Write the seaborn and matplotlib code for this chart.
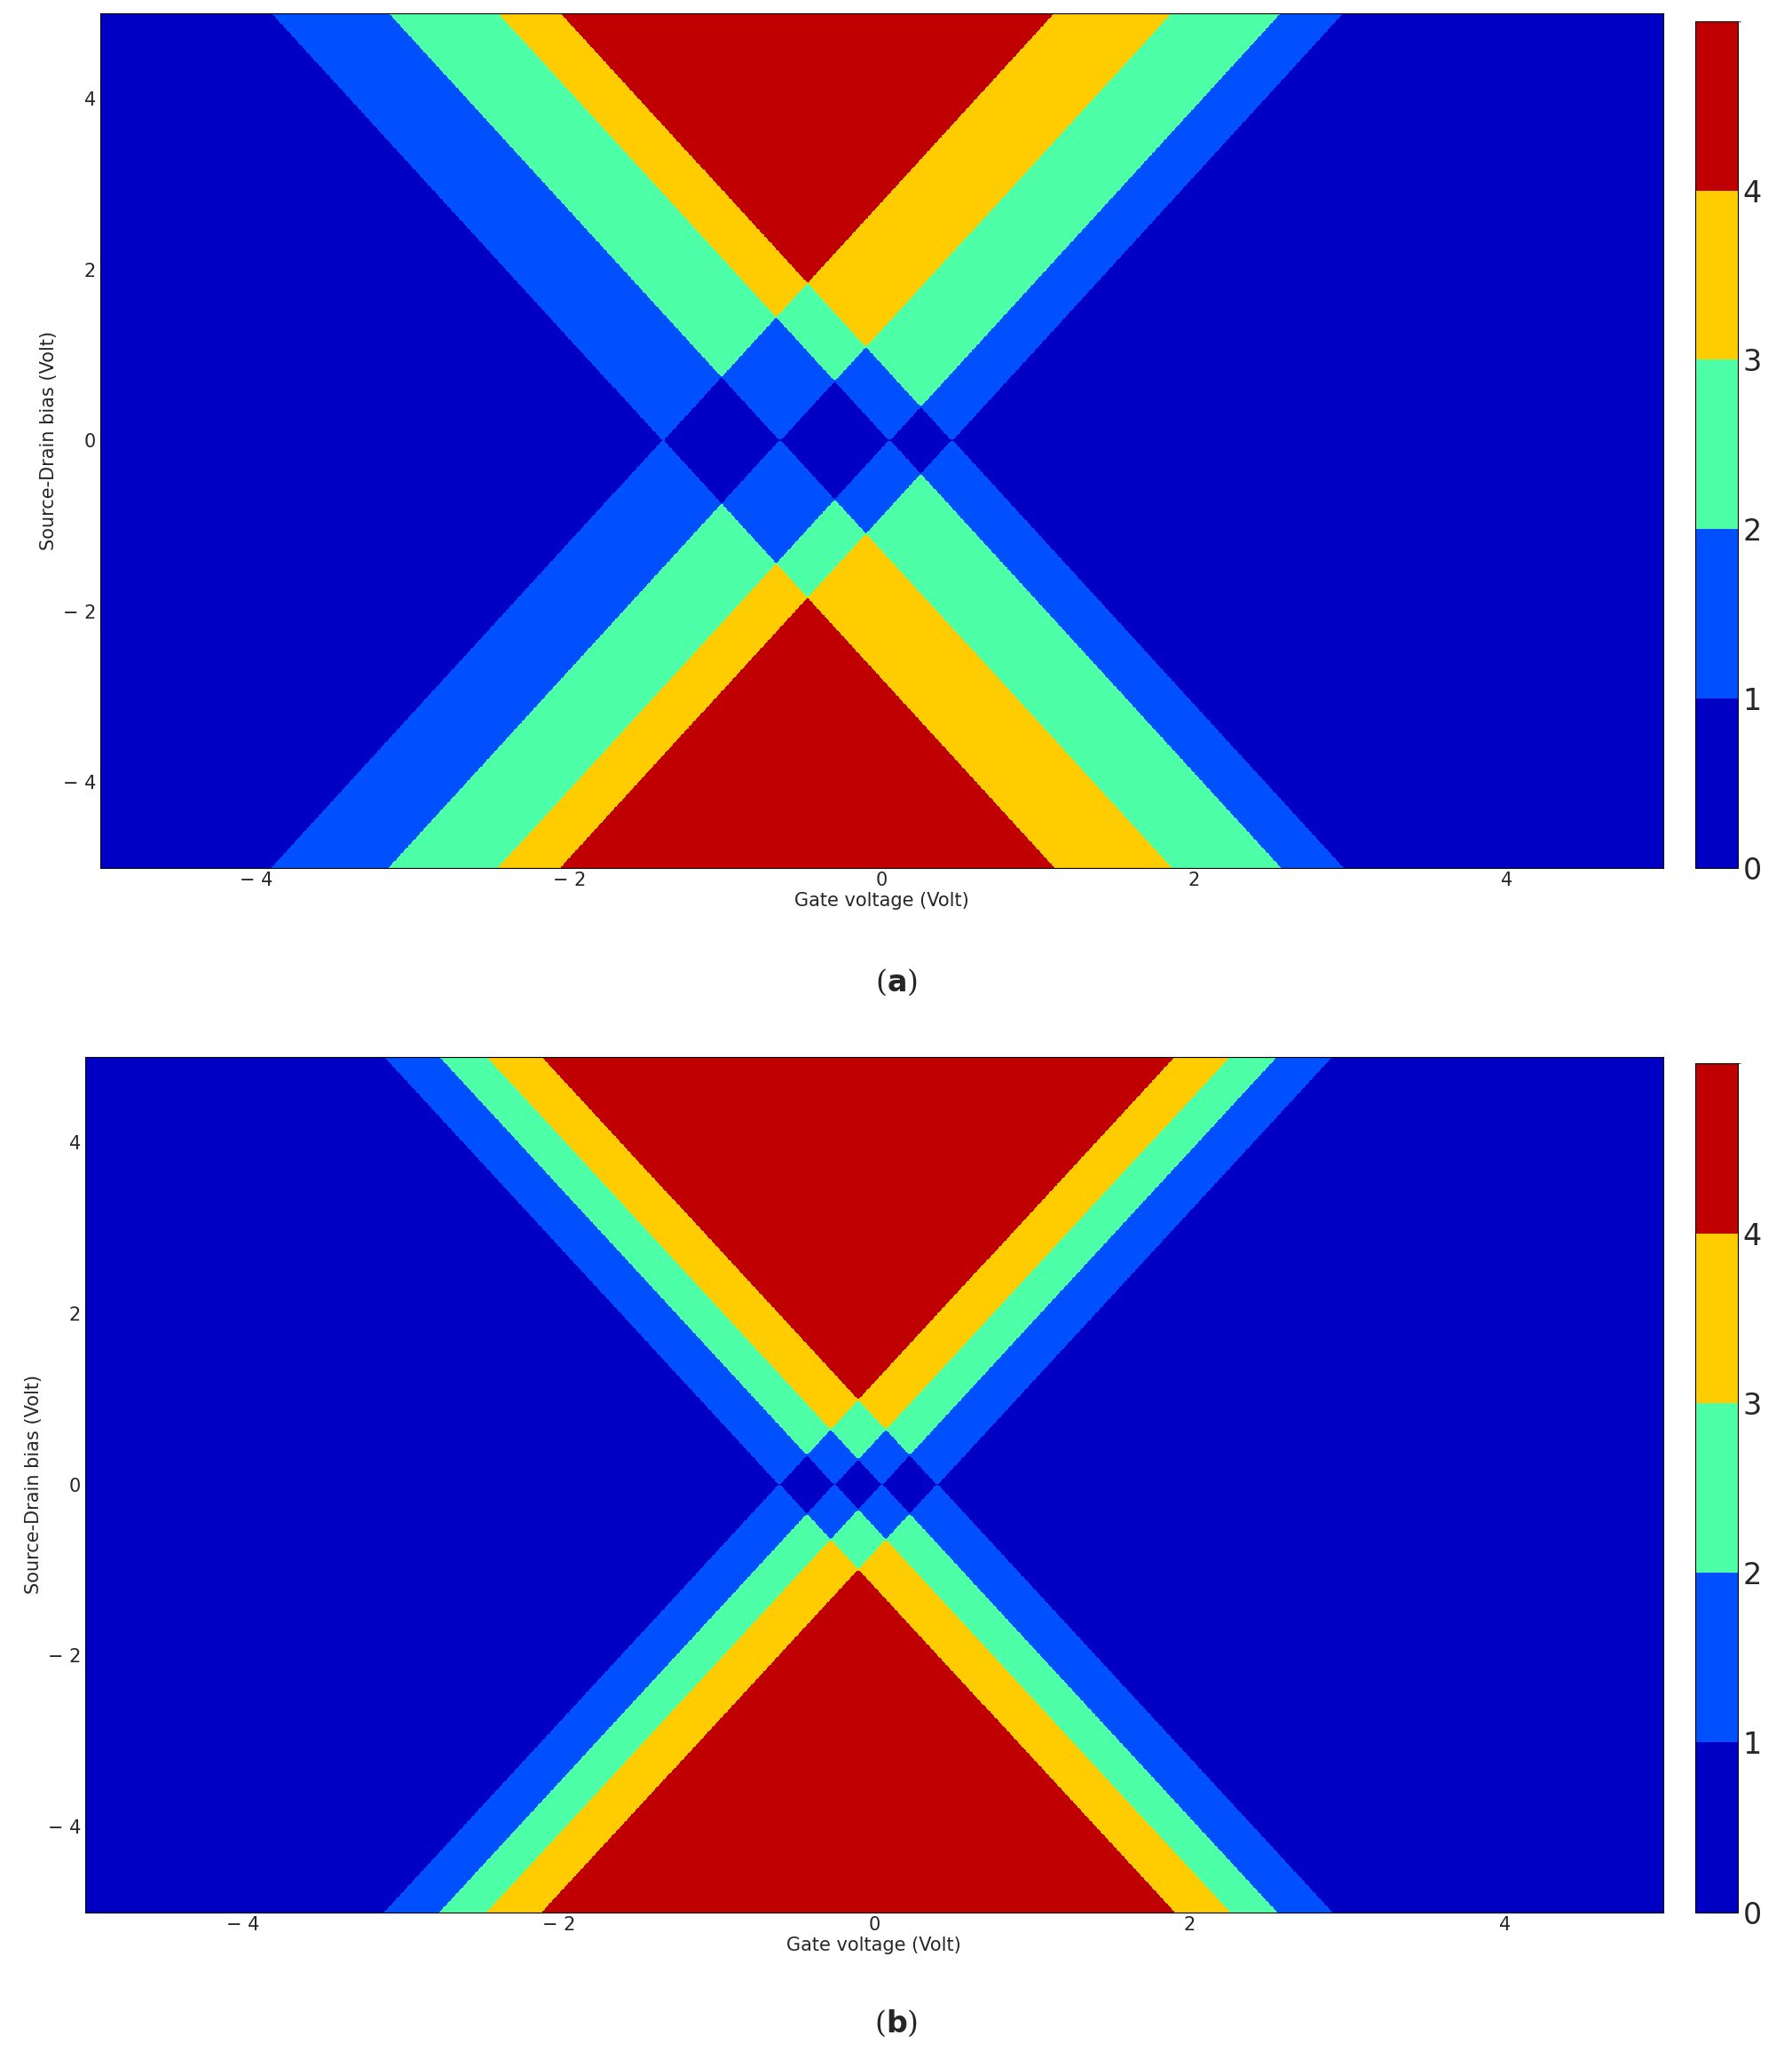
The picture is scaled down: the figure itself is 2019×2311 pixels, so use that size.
import matplotlib
matplotlib.use("Agg")
import matplotlib.pyplot as plt
from matplotlib.colors import ListedColormap, BoundaryNorm
import seaborn as sns
import numpy as np

sns.set_style("white")
plt.rcParams["font.family"] = ["DejaVu Sans"]

# level positions on the gate axis (Volt) and edge slope
levels_a = [-1.4, -0.65, 0.05, 0.45]
levels_b = [-0.6, -0.25, 0.05, 0.4]
slope = 0.5
panel_tags = ["a", "b"]

band_colors = ["#0000c4", "#0050ff", "#4dffa6", "#ffcc00", "#c00000"]
band_edges = [0, 1, 2, 3, 4, 4.9]
tick_vals = [-4, -2, 0, 2, 4]
tick_text = ["\u2212 4", "\u2212 2", "0", "2", "4"]

cmap = ListedColormap(sns.color_palette(band_colors))
norm = BoundaryNorm(band_edges, cmap.N)

vg = np.linspace(-5, 5, 1200)
vb = np.linspace(-5, 5, 800)
G, B = np.meshgrid(vg, vb)

fig = plt.figure(figsize=(20.19, 23.11), dpi=100)
ax_boxes = [[0.056, 0.577, 0.872, 0.4166], [0.0475, 0.0677, 0.8805, 0.417]]
cb_boxes = [[0.946, 0.577, 0.024, 0.4126], [0.946, 0.0677, 0.024, 0.4138]]
tag_y = [0.521, 0.0134]

for lv, tag, axb, cbb, ty in zip([levels_a, levels_b], panel_tags, ax_boxes, cb_boxes, tag_y):
    ax = fig.add_axes(axb)
    n = sum((np.abs(G - g) < slope * np.abs(B)).astype(float) for g in lv)
    cs = ax.contourf(G, B, n + 0.5, levels=band_edges, cmap=cmap, norm=norm)
    ax.set_xlim(-5, 5)
    ax.set_ylim(-5, 5)
    ax.set_xticks(tick_vals)
    ax.set_xticklabels(tick_text)
    ax.set_yticks(tick_vals)
    ax.set_yticklabels(tick_text)
    ax.tick_params(labelsize=15, length=6, direction="in", top=True, right=True)
    ax.set_xlabel("Gate voltage (Volt)", fontsize=15, labelpad=2)
    ax.set_ylabel("Source-Drain bias (Volt)", fontsize=15, labelpad=4)
    for sp in ax.spines.values():
        sp.set_edgecolor("black")
    cax = fig.add_axes(cbb)
    cb = fig.colorbar(cs, cax=cax, ticks=[0, 1, 2, 3, 4])
    cb.ax.tick_params(labelsize=24, length=0)
    cb.outline.set_edgecolor("black")
    fig.text(0.5, ty, r"($\mathbf{%s}$)" % tag, ha="center", va="center",
             fontsize=24, family="serif")

fig.savefig("out.png", dpi=100, facecolor="white")
